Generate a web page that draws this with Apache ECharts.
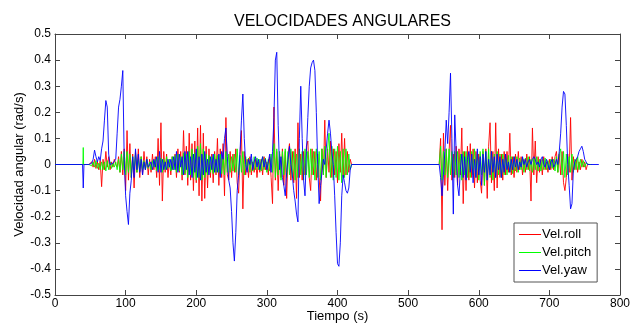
<!DOCTYPE html>
<html>
<head>
<meta charset="utf-8">
<script src="https://cdn.jsdelivr.net/npm/echarts@6/dist/echarts.min.js"></script>
<style>
  html, body { margin: 0; padding: 0; background: #fff; }
  #chart { width: 641px; height: 324px; }
</style>
</head>
<body>
<div id="chart"></div>
<script>
// sampling of the active stretches: first run t=50..420, second run t=546..756, every 2 s
const runA = { start: 50, step: 2 }
const runB = { start: 546, step: 2 }

// Vel.roll (rad/s)
const rollHead = [[0, 0], [19, 0], [20, -0.004], [21, 0], [48, 0]]
const rollA = [
  0.0, 0.01, -0.01, 0.02, -0.015, 0.01, -0.02, 0.015, -0.085, 0.02,
  -0.02, 0.05, -0.01, 0.03, -0.02, 0.01, -0.01, 0.02, 0.0, -0.01,
  0.03, -0.03, 0.05, -0.04, 0.06, -0.1, 0.13, -0.06, 0.08, -0.05,
  0.04, -0.09, 0.05, -0.03, 0.06, -0.05, 0.03, -0.04, 0.05, -0.02,
  0.03, -0.04, 0.02, -0.03, 0.04, -0.02, 0.03, -0.05, 0.1, -0.08,
  0.16, -0.14, 0.05, -0.03, 0.04, -0.05, 0.02, -0.04, 0.03, -0.02,
  0.04, -0.05, 0.06, -0.03, 0.05, -0.06, 0.13, -0.04, 0.07, -0.08,
  0.12, -0.06, 0.08, -0.1, 0.09, -0.07, 0.14, -0.12, 0.15, -0.14,
  0.12, -0.13, 0.07, -0.09, 0.06, -0.05, 0.04, -0.07, 0.05, -0.04,
  0.1, -0.08, 0.06, -0.05, 0.08, -0.12, 0.18, -0.04, -0.06, 0.05,
  -0.05, 0.04, -0.03, 0.06, -0.07, -0.11, 0.04, 0.13, -0.17, 0.05,
  -0.04, 0.02, -0.05, 0.03, -0.04, 0.01, -0.03, 0.02, -0.05, 0.01,
  -0.03, 0.02, -0.04, 0.03, -0.02, 0.01, -0.04, 0.03, -0.05, -0.15,
  0.22, -0.06, 0.05, -0.1, 0.04, -0.05, 0.06, -0.08, 0.05, -0.13,
  0.04, 0.08, -0.06, 0.05, -0.07, 0.06, -0.13, 0.16, -0.05, 0.04,
  -0.06, 0.05, -0.04, 0.07, 0.09, -0.05, -0.1, 0.06, -0.04, 0.05,
  -0.06, 0.04, -0.05, -0.14, 0.06, -0.04, 0.17, -0.05, 0.06, -0.03,
  0.09, -0.05, 0.06, -0.04, 0.05, -0.07, 0.08, -0.03, 0.12, -0.05,
  0.1, -0.04, 0.05, -0.03, 0.02, 0.0
]
const rollGap = [[422, 0], [440, 0], [441, -0.003], [442, 0], [530, 0], [531, 0.003], [532, 0], [544, 0]]
const rollB = [
  0.1, -0.25, 0.12, -0.08, 0.06, -0.1, 0.05, 0.15, -0.06, 0.04,
  -0.05, 0.07, -0.08, 0.06, -0.04, 0.14, -0.15, 0.05, -0.1, 0.07,
  -0.06, 0.08, -0.05, 0.06, -0.09, 0.05, -0.07, 0.04, -0.06, -0.11,
  0.05, -0.08, 0.06, -0.13, 0.07, 0.16, -0.07, 0.05, -0.1, 0.16,
  -0.09, 0.06, -0.05, 0.04, -0.06, 0.05, -0.04, 0.05, -0.03, 0.12,
  -0.04, 0.03, -0.05, 0.04, -0.03, 0.05, -0.02, 0.03, -0.04, 0.02,
  -0.03, 0.04, -0.02, 0.03, -0.14, 0.14, -0.04, 0.09, -0.07, 0.03,
  -0.03, 0.02, -0.04, 0.03, -0.02, 0.01, -0.03, 0.02, -0.02, 0.03,
  -0.02, 0.03, 0.05, -0.03, 0.04, -0.04, 0.05, -0.07, -0.1, -0.05,
  0.04, -0.03, 0.18, -0.06, 0.03, -0.02, 0.02, -0.03, 0.01, -0.02,
  0.02, -0.01, 0.01, -0.02, 0.0, 0.0
]
const rollTail = [[758, 0]]

// Vel.pitch (rad/s)
const pitchHead = [[0, 0], [39.5, 0], [40, 0.065], [40.5, 0], [48, 0]]
const pitchA = [
  0.0, -0.005, 0.01, -0.01, 0.015, -0.015, 0.005, -0.02, 0.01, -0.02,
  0.01, -0.025, 0.015, -0.02, 0.01, -0.015, 0.005, -0.01, 0.01, -0.02,
  0.02, -0.03, 0.04, -0.02, 0.05, -0.04, 0.05, -0.03, 0.04, -0.05,
  0.03, -0.02, 0.04, -0.03, 0.02, -0.025, 0.03, -0.02, 0.015, -0.02,
  0.02, -0.015, 0.01, -0.02, 0.015, -0.01, 0.02, -0.025, 0.03, -0.02,
  0.025, -0.03, 0.02, -0.02, 0.03, -0.015, 0.02, -0.025, 0.03, -0.02,
  0.035, -0.03, 0.04, -0.025, 0.03, -0.04, 0.045, -0.035, 0.04, -0.05,
  0.05, -0.04, 0.06, -0.05, 0.045, -0.06, 0.07, -0.05, 0.08, -0.06,
  0.06, -0.05, 0.04, -0.04, 0.035, -0.03, 0.03, -0.035, 0.04, -0.03,
  0.035, -0.03, 0.04, -0.035, 0.03, -0.04, 0.05, -0.03, 0.04, -0.03,
  0.03, -0.025, 0.04, -0.03, 0.06, -0.04, 0.035, -0.03, 0.05, -0.04,
  0.03, -0.02, 0.025, -0.03, 0.02, -0.025, 0.03, -0.02, 0.025, -0.02,
  0.02, -0.025, 0.03, -0.02, 0.025, -0.03, 0.02, -0.025, 0.04, -0.03,
  0.08, -0.05, 0.06, -0.04, 0.05, -0.06, 0.05, -0.04, 0.06, -0.05,
  0.05, -0.04, 0.06, -0.05, 0.05, -0.06, 0.04, -0.05, 0.06, -0.04,
  0.05, -0.06, 0.06, -0.04, 0.05, -0.05, 0.06, -0.04, 0.05, -0.06,
  0.06, -0.05, 0.05, -0.06, 0.06, -0.04, 0.07, -0.05, 0.06, 0.12,
  -0.05, 0.07, -0.06, 0.06, -0.05, 0.07, -0.06, 0.05, -0.07, 0.06,
  -0.05, 0.06, -0.04, 0.04, -0.02, 0.0
]
const pitchGap = [[422, 0], [544, 0]]
const pitchB = [
  0.07, -0.06, 0.05, -0.04, 0.06, -0.05, 0.06, -0.04, 0.05, -0.05,
  0.05, -0.04, 0.05, -0.05, 0.04, -0.06, 0.05, -0.04, 0.05, -0.05,
  0.04, -0.05, 0.05, -0.04, 0.06, -0.05, 0.04, -0.06, 0.05, -0.04,
  0.06, -0.08, 0.05, -0.06, 0.06, -0.05, 0.05, -0.06, 0.04, -0.05,
  0.05, -0.04, 0.04, -0.05, 0.04, -0.04, 0.03, -0.04, 0.035, -0.03,
  0.03, -0.035, 0.03, -0.025, 0.03, -0.03, 0.025, -0.02, 0.025, -0.03,
  0.025, -0.02, 0.03, -0.025, 0.02, -0.03, 0.025, -0.02, 0.03, -0.025,
  0.02, -0.025, 0.02, -0.02, 0.025, -0.02, 0.015, -0.02, 0.02, -0.015,
  0.02, -0.025, 0.03, -0.03, 0.04, 0.06, -0.04, 0.05, -0.05, 0.04,
  -0.04, 0.03, -0.03, 0.04, -0.03, 0.02, -0.02, 0.03, -0.02, 0.02,
  -0.01, 0.015, -0.01, 0.005, 0.0, 0.0
]
const pitchTail = [[760, 0]]

// Vel.yaw (rad/s)
const yawHead = [[0, 0], [39, 0], [40, -0.09], [41, 0], [48, 0]]
const yawA = [
  0.0, 0.005, 0.02, 0.055, 0.03, 0.01, 0.03, 0.015, 0.06, 0.09,
  0.17, 0.245, 0.22, 0.04, 0.0, 0.0, 0.005, 0.0, 0.02, 0.12,
  0.22, 0.25, 0.30, 0.36, 0.02, -0.12, -0.18, -0.23, -0.11, -0.06,
  0.03, -0.05, 0.06, -0.02, 0.04, -0.03, 0.02, -0.04, 0.01, -0.02,
  0.02, -0.01, 0.0, 0.01, -0.02, 0.02, -0.01, 0.03, -0.03, 0.05,
  -0.03, 0.02, -0.02, 0.01, -0.02, 0.02, -0.01, 0.02, -0.02, 0.03,
  -0.02, 0.05, -0.03, 0.04, -0.01, 0.03, -0.04, 0.05, -0.02, 0.05,
  -0.04, 0.03, -0.05, 0.04, -0.03, 0.06, -0.05, 0.03, -0.06, 0.04,
  -0.04, 0.05, -0.03, 0.02, -0.04, 0.03, -0.02, 0.04, -0.03, 0.02,
  -0.03, 0.04, -0.05, 0.05, 0.02, 0.1, 0.14, 0.03, -0.06, -0.09,
  -0.18, -0.30, -0.37, -0.26, -0.1, -0.04, 0.05, 0.17, 0.27, 0.1,
  0.0, -0.03, 0.02, 0.0, 0.04, -0.02, 0.01, 0.03, -0.01, 0.02,
  -0.02, 0.01, 0.03, -0.01, 0.02, -0.02, 0.01, 0.04, -0.03, 0.05,
  0.18, 0.40, 0.43, 0.15, -0.02, 0.03, -0.05, -0.08, -0.12, -0.03,
  0.02, 0.07, 0.0, -0.04, -0.1, -0.14, -0.19, -0.22, 0.1, 0.3,
  0.1, -0.06, -0.12, 0.05, 0.18, 0.30, 0.37, 0.39, 0.40, 0.36,
  0.2, 0.0, -0.15, -0.08, -0.03, 0.02, 0.0, 0.06, 0.12, 0.17,
  0.12, 0.05, 0.0, -0.12, -0.26, -0.38, -0.39, -0.3, -0.12, -0.04,
  -0.07, -0.1, -0.11, -0.09, -0.02, 0.0
]
const yawGap = [[422, 0], [544, 0]]
const yawB = [
  -0.05, -0.12, -0.04, 0.05, 0.17, 0.08, 0.2, 0.35, 0.1, -0.19,
  0.19, 0.05, -0.08, -0.12, -0.02, 0.04, -0.05, 0.03, -0.06, 0.02,
  0.05, -0.03, 0.04, -0.07, 0.02, -0.05, 0.06, -0.04, 0.03, -0.08,
  0.04, -0.03, 0.05, -0.06, 0.02, -0.04, 0.05, -0.03, 0.03, -0.05,
  0.04, -0.02, 0.03, -0.05, 0.02, -0.03, 0.04, -0.02, 0.01, -0.03,
  0.02, -0.02, 0.03, -0.01, 0.02, -0.02, 0.01, -0.01, 0.03, 0.0,
  0.02, -0.01, 0.01, 0.02, 0.0, 0.02, 0.03, 0.02, 0.0, 0.01,
  -0.01, 0.02, 0.03, 0.0, -0.01, 0.02, 0.0, -0.02, 0.01, 0.02,
  -0.01, 0.0, 0.02, 0.0, 0.05, 0.12, 0.22, 0.28, 0.27, 0.15,
  0.0, -0.08, -0.17, -0.15, -0.02, 0.01, 0.02, 0.03, 0.05, 0.06,
  0.07, 0.05, 0.02, 0.01, 0.0, 0.0
]
const yawTail = [[758, 0], [770, 0]]

const names = ['Vel.roll', 'Vel.pitch', 'Vel.yaw']
const colors = ['#ff0000', '#00ff00', '#0000ff']

function run(r, vals) {
  return vals.map((v, i) => [r.start + i * r.step, v])
}
const rollData = [].concat(rollHead, run(runA, rollA), rollGap, run(runB, rollB), rollTail)
const pitchData = [].concat(pitchHead, run(runA, pitchA), pitchGap, run(runB, pitchB), pitchTail)
const yawData = [].concat(yawHead, run(runA, yawA), yawGap, run(runB, yawB), yawTail)

const font = '"Liberation Sans", Arial, Helvetica, sans-serif'
const axisColor = '#444'

let chart = echarts.init(document.getElementById('chart'), null, { renderer: 'canvas' })
chart.setOption({
  animation: false,
  backgroundColor: '#fff',
  title: {
    text: 'VELOCIDADES ANGULARES',
    left: 337.5,
    textAlign: 'center',
    top: 9,
    textStyle: { fontFamily: font, fontSize: 16, fontWeight: 'normal', color: '#000' }
  },
  grid: { left: 55, right: 21, top: 34, bottom: 29, containLabel: false, outerBoundsMode: 'none' },
  legend: {
    orient: 'vertical',
    left: 514,
    top: 223,
    width: 86,
    padding: [5, 6, 5, 5],
    itemGap: 5,
    itemWidth: 22,
    itemHeight: 1,
    icon: 'rect',
    backgroundColor: '#fff',
    borderColor: '#555',
    borderWidth: 1,
    borderRadius: 0,
    data: names.map((n, i) => ({ name: n, itemStyle: { color: colors[i] } })),
    textStyle: { fontFamily: font, fontSize: 13, color: '#000', padding: [0, 0, 0, -4] }
  },
  xAxis: [{
    type: 'value',
    min: 0, max: 800, interval: 100,
    name: 'Tiempo (s)',
    nameLocation: 'middle',
    nameGap: 15,
    nameMoveOverlap: false,
    nameTextStyle: { fontFamily: font, fontSize: 13, color: '#000' },
    axisLine: { show: true, onZero: false, lineStyle: { color: axisColor, width: 1 } },
    axisTick: { show: true, inside: true, length: 5, lineStyle: { color: axisColor } },
    axisLabel: { fontFamily: font, fontSize: 12, color: '#000', margin: 3 },
    splitLine: { show: false }
  }, {
    type: 'value',
    position: 'top',
    min: 0, max: 800, interval: 100,
    axisLine: { show: true, onZero: false, lineStyle: { color: axisColor, width: 1 } },
    axisTick: { show: true, inside: true, length: 5, lineStyle: { color: axisColor } },
    axisLabel: { show: false },
    splitLine: { show: false }
  }],
  yAxis: [{
    type: 'value',
    min: -0.5, max: 0.5, interval: 0.1,
    name: 'Velocidad angular (rad/s)',
    nameLocation: 'middle',
    nameGap: 29,
    nameMoveOverlap: false,
    nameTextStyle: { fontFamily: font, fontSize: 13, color: '#000' },
    axisLine: { show: true, onZero: false, lineStyle: { color: axisColor, width: 1 } },
    axisTick: { show: true, inside: true, length: 5, lineStyle: { color: axisColor } },
    axisLabel: {
      fontFamily: font, fontSize: 12, color: '#000', margin: 4,
      formatter: v => String(Math.round(v * 10) / 10)
    },
    splitLine: { show: false }
  }, {
    type: 'value',
    position: 'right',
    min: -0.5, max: 0.5, interval: 0.1,
    axisLine: { show: true, onZero: false, lineStyle: { color: axisColor, width: 1 } },
    axisTick: { show: true, inside: true, length: 5, lineStyle: { color: axisColor } },
    axisLabel: { show: false },
    splitLine: { show: false }
  }],
  series: [rollData, pitchData, yawData].map((d, i) => ({
    name: names[i],
    type: 'line',
    xAxisIndex: 0,
    yAxisIndex: 0,
    data: d,
    showSymbol: false,
    symbol: 'none',
    sampling: null,
    color: colors[i],
    lineStyle: { color: colors[i], width: 0.9 },
    emphasis: { disabled: true }
  }))
})
</script>
</body>
</html>
